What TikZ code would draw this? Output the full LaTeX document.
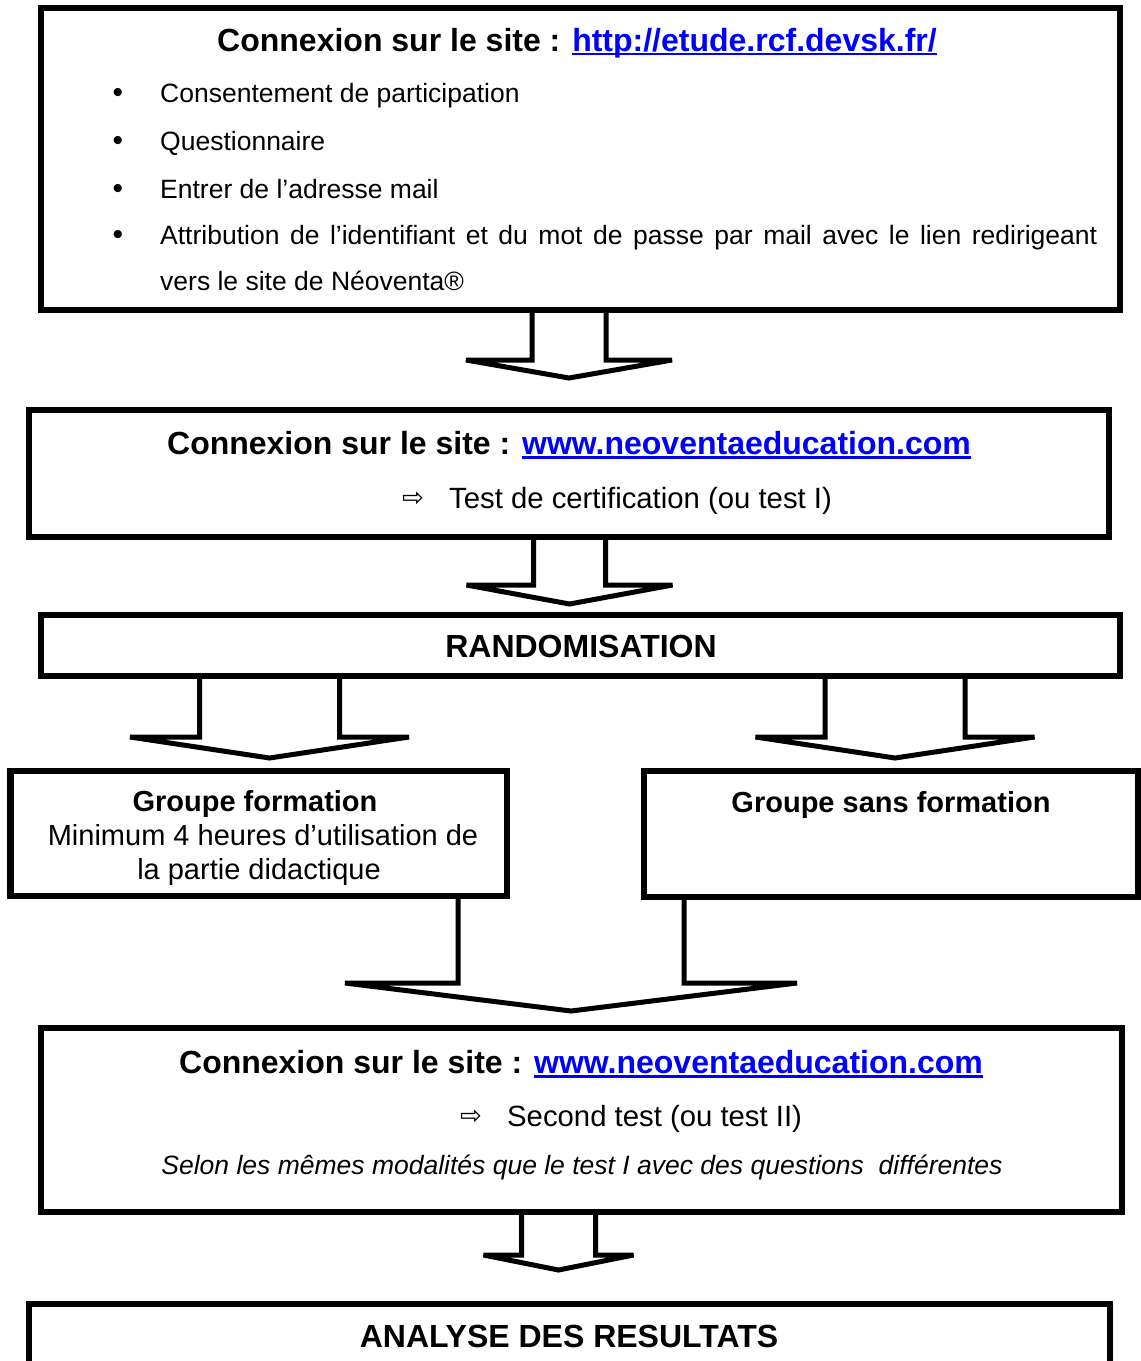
\documentclass[tikz,border=0pt]{standalone}
\usepackage{fontspec}
\setmainfont{Liberation Sans}
\newfontfamily\flechefont{DejaVu Sans}
\usetikzlibrary{calc}
\definecolor{lienbleu}{RGB}{0,0,255}
\newsavebox\lienbox
\newcommand{\lien}[1]{\sbox\lienbox{#1}\textcolor{lienbleu}{\rlap{\rule[-4.2pt]{\wd\lienbox}{2.4pt}}#1}}
\newcommand{\titre}{\fontsize{32}{38}\selectfont\bfseries}
\newcommand{\corps}{\fontsize{26.5}{32}\selectfont}
\newcommand{\moyen}{\fontsize{29.3}{35}\selectfont}
\newcommand{\groupe}{\fontsize{29}{34}\selectfont}
\newcommand{\blocfleche}[5]{%
  \draw[fleche] ($(#1)+(-#2,0)$) -- ++(0,#3) -- ($(#1)+(-#4,#3)$)
    -- ($(#1)+(0,#3+#5)$) -- ($(#1)+(#4,#3)$) -- ($(#1)+(#2,#3)$) -- ++(0,-#3);}
\tikzset{
  boite/.style={draw, rectangle, line width=6.5pt, inner sep=0pt, outer sep=0pt},
  fleche/.style={line width=5pt, line join=miter},
  txt/.style={inner sep=0pt, anchor=base},
  txtg/.style={inner sep=0pt, anchor=base west},
  puce/.style={inner sep=0pt, anchor=base, font=\fontsize{30}{36}\selectfont},
  sym/.style={inner sep=0pt, anchor=base, font=\fontsize{26}{30}\selectfont\flechefont},
}
\begin{document}
\begin{tikzpicture}[x=1pt,y=-1pt]
      \useasboundingbox (0,0) rectangle (1141,1361);
      \clip (0,0) rectangle (1141,1361);
      \node[boite, minimum width=1079, minimum height=302] (connexion) at (580.5,159) {};
      \node[boite, minimum width=1080, minimum height=127] (certif) at (569,473.5) {};
      \node[boite, minimum width=1079, minimum height=61] (rando) at (580.5,645.5) {};
      \node[boite, minimum width=496.5, minimum height=125] (avec) at (258.75,833.5) {};
      \node[boite, minimum width=494, minimum height=126] (sans) at (891,834) {};
      \node[boite, minimum width=1081, minimum height=184] (second) at (581.5,1120) {};
      \node[boite, minimum width=1081, minimum height=120] (analyse) at (569.5,1364) {};
      \node[txt] (t1) at (577,51) {\titre Connexion sur le site : \lien{http://etude.rcf.devsk.fr/}};
      \foreach \i/\y/\t in {1/102.5/Consentement de participation,
                            2/150.5/Questionnaire,
                            3/198.5/Entrer de l’adresse mail}
        {
        \node[puce] (d\i) at (118,\y) {•};
        \node[txtg] (p\i) at (160,\y) {\corps \t};
        }
      \node[puce] (d4) at (118,244.5) {•};
      \node[txtg] (p4) at (160,244.5) {\corps\makebox[937pt][s]{Attribution de l’identifiant et du mot de passe par mail avec le lien redirigeant}};
      \node[txtg] (p5) at (160,290.5) {\corps vers le site de Néoventa®};
      \node[txt] (t2) at (569,454.5) {\titre Connexion sur le site : \lien{www.neoventaeducation.com}};
      \node[sym] (f2) at (413,506) {⇨};
      \node[txtg] (s2) at (449,508) {\moyen Test de certification (ou test I)};
      \node[txt] (t3) at (581,657.5) {\titre RANDOMISATION};
      \node[txt] (t4) at (255,811) {\groupe\bfseries Groupe formation};
      \node[txt] (t4b) at (263,845.5) {\groupe Minimum 4 heures d’utilisation de};
      \node[txt] (t4c) at (259,879) {\groupe la partie didactique};
      \node[txt] (t5) at (891,812) {\groupe\bfseries Groupe sans formation};
      \node[txt] (t6) at (581,1073.5) {\titre Connexion sur le site : \lien{www.neoventaeducation.com}};
      \node[sym] (f6) at (471,1124) {⇨};
      \node[txtg] (s6) at (507,1126) {\moyen Second test (ou test II)};
      \node[txt] (s6b) at (582,1174.5) {\corps\itshape Selon les mêmes modalités que le test I avec des questions\ \ différentes};
      \node[txt] (t7) at (569,1347.5) {\titre ANALYSE DES RESULTATS};
      \coordinate (h1) at (569,0 |- connexion.south);
      \coordinate (h2) at (569.5,0 |- certif.south);
      \coordinate (h3) at (269.5,0 |- rando.south);
      \coordinate (h4) at (895,0 |- rando.south);
      \coordinate (h5) at (571,0 |- avec.south);
      \coordinate (h6) at (558.5,0 |- second.south);
      \blocfleche{h1}{37}{50}{103}{18}
      \blocfleche{h2}{36}{48}{103}{19}
      \blocfleche{h3}{70}{61}{139.5}{21}
      \blocfleche{h4}{70}{61}{139.5}{21}
      \blocfleche{h5}{113}{87}{226}{28}
      \blocfleche{h6}{37}{43}{75}{15}
    \end{tikzpicture}
\end{document}
